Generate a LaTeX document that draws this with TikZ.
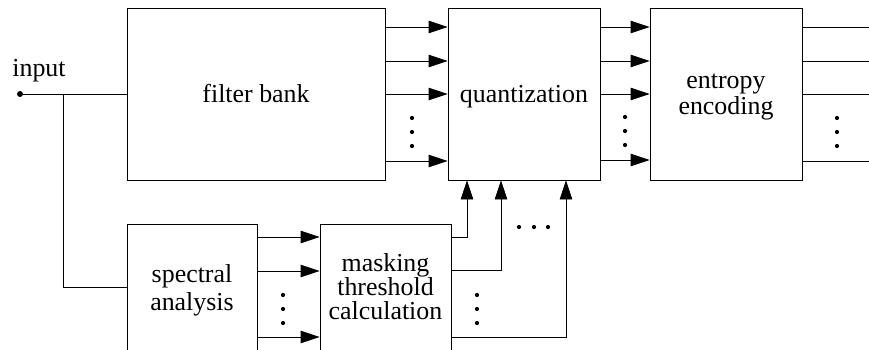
\documentclass[tikz,border=0pt]{standalone}
\usepackage{fontspec}
\setmainfont{Liberation Serif}
\usetikzlibrary{arrows.meta}
\usetikzlibrary{positioning}

\tikzset{
  block/.style={draw, rectangle, line width=0.8pt, inner sep=0pt},
  boxtext/.style={align=center, inner sep=0pt},
  arr/.style={-{Triangle[length=19pt,width=12.5pt]}, line width=0.8pt},
  wire/.style={line width=0.8pt},
}

\begin{document}
\begin{tikzpicture}[x=1pt, y=-1pt]
\fontsize{25.9}{26}\selectfont
\useasboundingbox (0,0) rectangle (869,350);
\clip (0,0) rectangle (869,350);

% upper chain
\node[block, minimum width=258, minimum height=172, text height=17.6pt, text depth=0pt] (filter) at (256,94) {filter bank};
\node[block, minimum width=152, minimum height=172, text height=17.6pt, text depth=0pt] (quant) at (524,94) {quantization};
\node[block, minimum width=152, minimum height=172] (entropy) at (726,94) {};
\node[boxtext, font=\fontsize{25.9}{26}\selectfont] (entropytext) at (726,97.4) {entropy\\encoding};

% lower chain, boxes run past the bottom edge
\node[block, minimum width=130, minimum height=150, anchor=north] (spectral) at (192,224) {};
\node[boxtext, font=\fontsize{25.9}{28}\selectfont] (spectraltext) at (192,290) {spectral\\analysis};
\node[block, minimum width=131, minimum height=150, anchor=north] (masking) at (385.5,224) {};
\node[boxtext, font=\fontsize{25.9}{24}\selectfont] (maskingtext) at (385.5,286.3) {masking\\threshold\\calculation};

% input
\node[circle, fill, inner sep=0pt, minimum size=6pt] (in) at (20,94) {};
\node[anchor=base] (inlabel) at (39,77) {input};
\coordinate (split) at (63,94);
\coordinate (outedge) at (880,0);
\draw[wire] (in) -- (filter.west);
\draw[wire] (split) |- (spectral.west |- 0,287);

% parallel channels
\foreach \y in {27,61,94,161}
  \draw[arr] (filter.east |- 0,\y) -- (quant.west |- 0,\y);
\foreach \y in {27,61,94,160}
  \draw[arr] (quant.east |- 0,\y) -- (entropy.west |- 0,\y);
\foreach \y in {27,61,94,161}
  \draw[wire] (entropy.east |- 0,\y) -- (outedge |- 0,\y);
\foreach \y in {237,271,337}
  \draw[arr] (spectral.east |- 0,\y) -- (masking.west |- 0,\y);

% thresholds back up to quantization
\draw[arr] (masking.east |- 0,237) -| (quant.south -| 467,0);
\draw[arr] (masking.east |- 0,270) -| (quant.south -| 501,0);
\draw[arr] (masking.east |- 0,337) -| (quant.south -| 566,0);

% dots
\foreach \x/\y in {412/118, 625/117, 837/118, 283/295, 477/295}
  \foreach \d in {0,14,28}
    \fill (\x,\y+\d) circle (2.1);
\foreach \x in {519,534,548}
  \fill (\x,227) circle (2.1);

\end{tikzpicture}
\end{document}
